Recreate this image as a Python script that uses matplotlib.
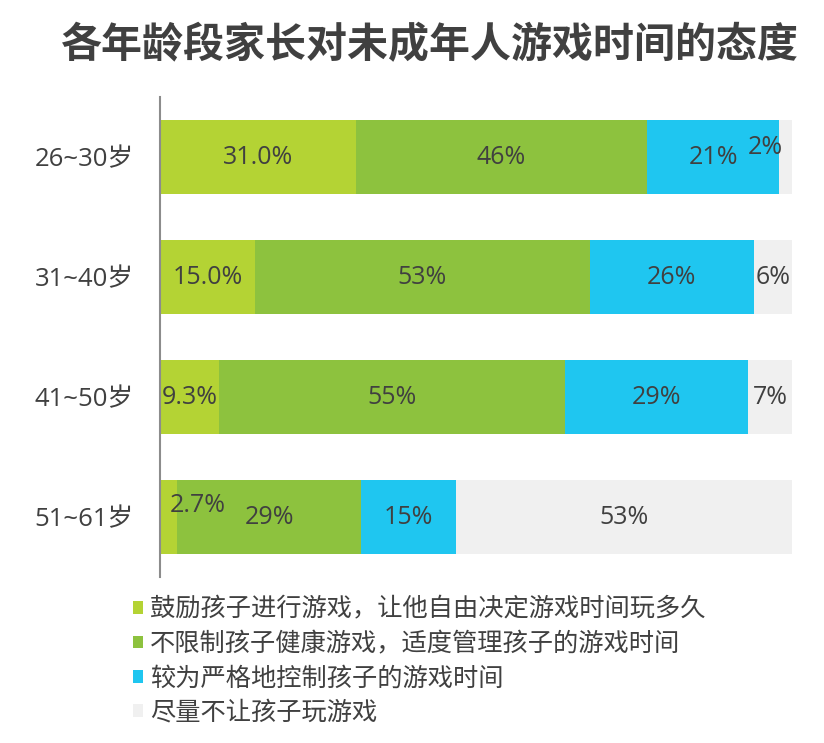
import matplotlib
matplotlib.use("Agg")
import matplotlib.pyplot as plt
from matplotlib.patches import Patch
import numpy as np

plt.rcParams['font.family'] = ['Noto Sans CJK SC', 'DejaVu Sans']

# ---- data ----
ages = ["26~30岁", "31~40岁", "41~50岁", "51~61岁"]
series = ["鼓励孩子进行游戏，让他自由决定游戏时间玩多久",
          "不限制孩子健康游戏，适度管理孩子的游戏时间",
          "较为严格地控制孩子的游戏时间",
          "尽量不让孩子玩游戏"]
encourage = [31.0, 15.0, 9.3, 2.7]
moderate = [46, 53, 55, 29]
strict = [21, 26, 29, 15]
forbid = [2, 6, 7, 53]
label_text = [["31.0%", "46%", "21%", "2%"],
              ["15.0%", "53%", "26%", "6%"],
              ["9.3%", "55%", "29%", "7%"],
              ["2.7%", "29%", "15%", "53%"]]

colors = ["#b4d334", "#8dc23e", "#1fc6f0", "#f0f0f0"]
TXT = "#404040"

vals = np.array([encourage, moderate, strict, forbid], dtype=float)
vals = vals / vals.sum(axis=0) * 100  # each row fills to 100%

fig = plt.figure(figsize=(8.24, 7.43), dpi=100)
ax = fig.add_axes([160 / 824, 1 - 577 / 743, 632 / 824, 480 / 743])

y = np.arange(len(ages))
left = np.zeros(len(ages))
# manual nudges (pixels) for labels that don't fit their segment
nudge = {(0, 3): (-20, 10), (3, 0): (29, 12)}
for k in range(4):
    ax.barh(y, vals[k], left=left, height=0.62, color=colors[k], edgecolor="none")
    for i in range(len(ages)):
        cx = left[i] + vals[k][i] / 2
        dx, dy = nudge.get((i, k), (0, 0))
        ax.annotate(label_text[i][k], (cx, y[i]), xytext=(dx, dy), textcoords="offset pixels",
                    ha="center", va="center", fontsize=18, color=TXT,
                    family=["Open Sans", "DejaVu Sans"])
    left += vals[k]

ax.set_xlim(0, 100)
ax.set_ylim(3.5, -0.5)
ax.set_yticks(y)
ax.set_yticklabels(ages, fontsize=18.5, color=TXT, family=["Open Sans", "Noto Sans CJK SC"])
ax.tick_params(axis="y", length=0, pad=19)
ax.set_xticks([])
for s in ["top", "right", "bottom"]:
    ax.spines[s].set_visible(False)
ax.spines["left"].set_color("#8c8c8c")
ax.spines["left"].set_linewidth(1.5)

fig.text(430 / 824, 1 - 45 / 743, "各年龄段家长对未成年人游戏时间的态度",
         ha="center", va="center", fontsize=29.5, fontweight="bold", color=TXT)

handles = [Patch(facecolor=c, edgecolor="none") for c in colors]
fig.legend(handles, series, loc="upper left", bbox_to_anchor=(120 / 824, 1 - 584 / 743),
           frameon=False, fontsize=18.2, handlelength=0.4, handleheight=0.4,
           handletextpad=0.3, labelspacing=0.33, borderpad=0, labelcolor=TXT)

fig.savefig("out.png", dpi=100, facecolor="white")
